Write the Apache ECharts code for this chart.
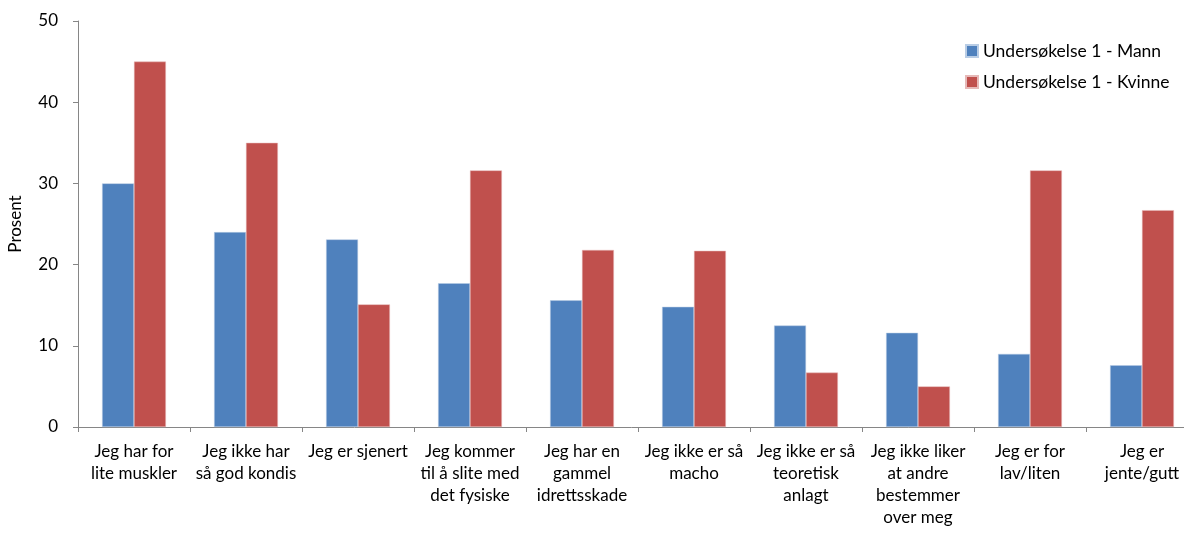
<!DOCTYPE html>
<html>
<head>
<meta charset="utf-8">
<script src="https://cdn.jsdelivr.net/npm/echarts@6/dist/echarts.min.js"></script>
<style>html,body{margin:0;padding:0;background:#fff}#c{width:1184px;height:536px}</style>
</head>
<body>
<div id="c"></div>
<script>
const categories = [
  "Jeg har for\nlite muskler",
  "Jeg ikke har\nså god kondis",
  "Jeg er sjenert",
  "Jeg kommer\ntil å slite med\ndet fysiske",
  "Jeg har en\ngammel\nidrettsskade",
  "Jeg ikke er så\nmacho",
  "Jeg ikke er så\nteoretisk\nanlagt",
  "Jeg ikke liker\nat andre\nbestemmer\nover meg",
  "Jeg er for\nlav/liten",
  "Jeg er\njente/gutt"
];
const seriesNames = ["Undersøkelse 1 - Mann", "Undersøkelse 1 - Kvinne"];
const mann = [30.0, 24.0, 23.1, 17.7, 15.6, 14.8, 12.5, 11.6, 9.0, 7.6];
const kvinne = [45.0, 35.0, 15.1, 31.6, 21.8, 21.7, 6.7, 5.0, 31.6, 26.7];
const yTicks = {min: 0, max: 50, interval: 10};
const yTitle = "Prosent";

const font = "Lato, 'Open Sans', sans-serif";
const chart = echarts.init(document.getElementById('c'));
chart.setOption({
  animation: false,
  textStyle: {fontFamily: font},
  legend: {
    orient: 'vertical',
    left: 960,
    top: 37,
    itemWidth: 12,
    itemHeight: 12,
    itemGap: 13,
    icon: 'rect',
    textStyle: {fontSize: 17.5, color: '#000', fontFamily: font},
    data: seriesNames
  },
  grid: {left: 78, width: 1120, top: 21, bottom: 109, containLabel: false, outerBoundsMode: 'none'},
  xAxis: {
    type: 'category',
    data: categories,
    axisLine: {lineStyle: {color: '#868686', width: 1}},
    axisTick: {show: true, length: 5, lineStyle: {color: '#868686'}},
    axisLabel: {interval: 0, fontSize: 17, lineHeight: 22, color: '#000', margin: 14, fontFamily: font, align: 'center'},
    splitLine: {show: false}
  },
  yAxis: {
    type: 'value',
    min: yTicks.min, max: yTicks.max, interval: yTicks.interval,
    name: yTitle,
    nameLocation: 'middle',
    nameRotate: 90,
    nameGap: 54,
    nameTextStyle: {fontSize: 17, color: '#000', fontFamily: font},
    axisLine: {show: true, lineStyle: {color: '#868686'}},
    axisTick: {show: true, length: 5, lineStyle: {color: '#868686'}},
    axisLabel: {fontSize: 17, color: '#000', margin: 20, fontFamily: font},
    splitLine: {show: false}
  },
  series: [
    {name: seriesNames[0], type: 'bar', data: mann, barGap: '0%', barCategoryGap: '43%',
     itemStyle: {color: '#4F81BD', borderColor: '#B9CDE5', borderWidth: 0.5}},
    {name: seriesNames[1], type: 'bar', data: kvinne, barGap: '0%', barCategoryGap: '43%',
     itemStyle: {color: '#C0504D', borderColor: '#E6B9B8', borderWidth: 0.5}}
  ]
});
</script>
</body>
</html>
